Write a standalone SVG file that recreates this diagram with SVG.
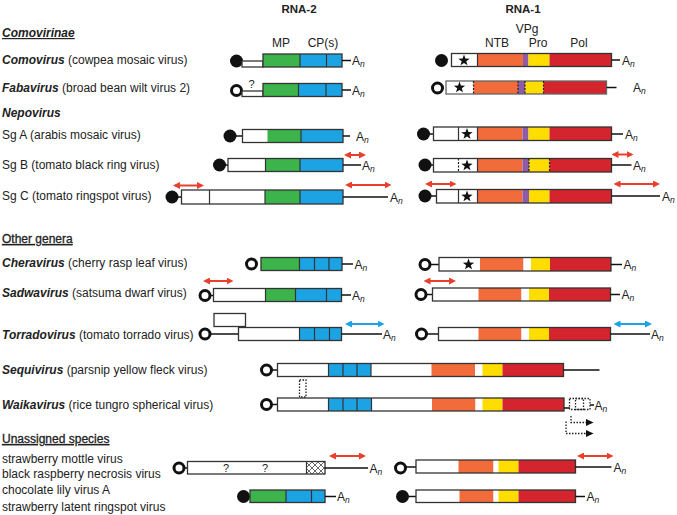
<svg xmlns="http://www.w3.org/2000/svg" xmlns:xlink="http://www.w3.org/1999/xlink" width="677" height="515" viewBox="0 0 677 515">
<style>
.t{font-family:"Liberation Sans",Arial,Helvetica,sans-serif;font-size:12px;fill:#222}
.bi{font-weight:bold;font-style:italic}
.hd{font-weight:bold;font-size:11.5px}
.ul{text-decoration:underline;stroke:#222;stroke-width:0.3}
.sub{font-size:8.5px;font-style:italic}
.q{font-size:11px}
.fc{fill:#111}
.oc{fill:#fff;stroke:#111;stroke-width:3}
.ln{stroke:#111;stroke-width:1.5;fill:none}
.bx{fill:none;stroke:#333;stroke-width:1.3}
.bxl{fill:none;stroke:#666;stroke-width:1.3}
.dv{stroke:#333;stroke-width:1.2}
.dd{stroke:#222;stroke-width:1.2;stroke-dasharray:2 1.5}
.dt{fill:none;stroke:#222;stroke-width:1.3;stroke-dasharray:1.5 1.5}
.w{fill:#fff}.g{fill:#3cb44b}.c{fill:#1ba3e3}.o{fill:#f26b3a}.p{fill:#8d5ba8}.y{fill:#ffdd00}.r{fill:#d4242d}
.ar{stroke:#e8402d;stroke-width:2;fill:none;marker-start:url(#mr);marker-end:url(#mr)}
.ab{stroke:#1ba3e3;stroke-width:2;fill:none;marker-start:url(#mb);marker-end:url(#mb)}
</style>
<defs>
<marker id="mr" viewBox="0 0 7 7" refX="5" refY="3.5" markerWidth="7" markerHeight="7" markerUnits="userSpaceOnUse" orient="auto-start-reverse"><path d="M0,0 L7,3.5 L0,7 z" fill="#e8402d"/></marker>
<marker id="mb" viewBox="0 0 7 7" refX="5" refY="3.5" markerWidth="7" markerHeight="7" markerUnits="userSpaceOnUse" orient="auto-start-reverse"><path d="M0,0 L7,3.5 L0,7 z" fill="#1ba3e3"/></marker>
<path id="star" d="M0,-6 L1.41,-1.94 L5.71,-1.85 L2.28,0.74 L3.53,4.85 L0,2.4 L-3.53,4.85 L-2.28,0.74 L-5.71,-1.85 L-1.41,-1.94 Z" fill="#111"/>
<pattern id="xh" width="6" height="6" patternUnits="userSpaceOnUse"><rect width="6" height="6" fill="#fff"/><path d="M0,0 L6,6 M6,0 L0,6" stroke="#444" stroke-width="0.8"/></pattern>
</defs>
<rect width="677" height="515" fill="#fff"/>

<g id="labels">
<text class="t hd" x="299" y="13" text-anchor="middle">RNA-2</text>
<text class="t hd" x="523" y="13" text-anchor="middle">RNA-1</text>
<text class="t" x="281" y="47" text-anchor="middle">MP</text>
<text class="t" x="323" y="47" text-anchor="middle">CP(s)</text>
<text class="t" x="527" y="33" text-anchor="middle">VPg</text>
<text class="t" x="497" y="47" text-anchor="middle">NTB</text>
<text class="t" x="538" y="47" text-anchor="middle">Pro</text>
<text class="t" x="579" y="47" text-anchor="middle">Pol</text>
<text class="t bi" x="2" y="37" text-decoration="underline">Comovirinae</text>
<text class="t" x="2" y="64"><tspan class="bi">Comovirus</tspan> (cowpea mosaic virus)</text>
<text class="t" x="2" y="92"><tspan class="bi">Fabavirus</tspan> (broad bean wilt virus 2)</text>
<text class="t bi" x="2" y="117">Nepovirus</text>
<text class="t" x="2" y="139">Sg A (arabis mosaic virus)</text>
<text class="t" x="2" y="169">Sg B (tomato black ring virus)</text>
<text class="t" x="2" y="200">Sg C (tomato ringspot virus)</text>
<text class="t ul" x="2" y="243" text-decoration="underline">Other genera</text>
<text class="t" x="2" y="267"><tspan class="bi">Cheravirus</tspan> (cherry rasp leaf virus)</text>
<text class="t" x="2" y="297"><tspan class="bi">Sadwavirus</tspan> (satsuma dwarf virus)</text>
<text class="t" x="2" y="339"><tspan class="bi">Torradovirus</tspan> (tomato torrado virus)</text>
<text class="t" x="2" y="374"><tspan class="bi">Sequivirus</tspan> (parsnip yellow fleck virus)</text>
<text class="t" x="2" y="409"><tspan class="bi">Waikavirus</tspan> (rice tungro spherical virus)</text>
<text class="t ul" x="2" y="443" text-decoration="underline">Unassigned species</text>
<text class="t" x="2" y="463">strawberry mottle virus</text>
<text class="t" x="2" y="478">black raspberry necrosis virus</text>
<text class="t" x="2" y="494">chocolate lily virus A</text>
<text class="t" x="2" y="511">strawberry latent ringspot virus</text>
</g>

<g id="como-rna2">
<circle class="fc" cx="236.5" cy="61" r="6.5"/>
<rect x="242" y="61" width="21" height="6" class="w"/><rect x="242" y="61" width="21" height="6" class="bx"/>
<rect x="263" y="54" width="37" height="13" class="g"/><rect x="300" y="54" width="42" height="13" class="c"/>
<rect x="263" y="54" width="79" height="13" class="bx"/>
<line x1="300" y1="54" x2="300" y2="67" class="dv"/><line x1="326.5" y1="54" x2="326.5" y2="67" class="dv"/>
<line x1="342" y1="60.5" x2="351" y2="60.5" class="ln"/>
<text class="t" x="352" y="65">A<tspan class="sub" dy="2">n</tspan></text>
</g>
<g id="como-rna1">
<circle class="fc" cx="441.5" cy="60.5" r="6.5"/>
<rect x="451.5" y="53.5" width="26" height="13" class="w"/><rect x="477.5" y="53.5" width="45.5" height="13" class="o"/><rect x="523" y="53.5" width="5.5" height="13" class="p"/><rect x="528.5" y="53.5" width="21" height="13" class="y"/><rect x="549.5" y="53.5" width="62" height="13" class="r"/>
<rect x="451.5" y="53.5" width="160" height="13" class="bx"/>
<line x1="477.5" y1="53.5" x2="477.5" y2="66.5" class="dv"/>
<use xlink:href="#star" x="464" y="60.5"/>
<line x1="611.5" y1="60" x2="620" y2="60" class="ln"/>
<text class="t" x="622" y="64.5">A<tspan class="sub" dy="2">n</tspan></text>
</g>

<g id="faba-rna2">
<circle class="oc" cx="236.5" cy="90.5" r="5"/>
<rect x="242" y="91" width="21" height="5.5" class="w"/><rect x="242" y="91" width="21" height="5.5" class="bx"/>
<text class="t q" x="251.5" y="88" text-anchor="middle">?</text>
<rect x="263" y="83.5" width="35.5" height="13" class="g"/><rect x="298.5" y="83.5" width="43.5" height="13" class="c"/>
<rect x="263" y="83.5" width="79" height="13" class="bx"/>
<line x1="298.5" y1="83.5" x2="298.5" y2="96.5" class="dv"/><line x1="326" y1="83.5" x2="326" y2="96.5" class="dv"/>
<line x1="342" y1="90" x2="351" y2="90" class="ln"/>
<text class="t" x="352" y="94.5">A<tspan class="sub" dy="2">n</tspan></text>
</g>
<g id="faba-rna1">
<circle class="oc" cx="437.5" cy="88" r="5"/>
<rect x="446" y="81" width="27.5" height="13" class="w"/><rect x="473.5" y="81" width="44.5" height="13" class="o"/><rect x="518" y="81" width="7" height="13" class="p"/><rect x="525" y="81" width="18.5" height="13" class="y"/><rect x="543.5" y="81" width="63" height="13" class="r"/>
<rect x="446" y="81" width="160.5" height="13" class="bxl"/>
<line x1="473.5" y1="81" x2="473.5" y2="94" class="dd"/><line x1="518" y1="81" x2="518" y2="94" class="dd"/><line x1="525" y1="81" x2="525" y2="94" class="dd"/><line x1="543.5" y1="81" x2="543.5" y2="94" class="dd"/>
<use xlink:href="#star" x="459.5" y="87.5"/>
<line x1="606.5" y1="87.5" x2="616.5" y2="87.5" class="ln"/>
<text class="t" x="633" y="92">A<tspan class="sub" dy="2">n</tspan></text>
</g>

<g id="sga-rna2">
<circle class="fc" cx="230" cy="136" r="6.5"/>
<line x1="235" y1="136" x2="242.5" y2="136" class="ln"/>
<rect x="242.5" y="129.5" width="25" height="13" class="w"/><rect x="267.5" y="129.5" width="33.5" height="13" class="g"/><rect x="301" y="129.5" width="42" height="13" class="c"/>
<rect x="242.5" y="129.5" width="100.5" height="13" class="bx"/>
<line x1="301" y1="129.5" x2="301" y2="142.5" class="dv"/>
<line x1="343" y1="136" x2="350" y2="136" class="ln"/>
<text class="t" x="356" y="140.5">A<tspan class="sub" dy="2">n</tspan></text>
</g>
<g id="sga-rna1">
<circle class="fc" cx="423.5" cy="134" r="6.5"/>
<line x1="428" y1="134" x2="433.5" y2="134" class="ln"/>
<rect x="433.5" y="127" width="44" height="13.5" class="w"/><rect x="477.5" y="127" width="45" height="13.5" class="o"/><rect x="522.5" y="127" width="6" height="13.5" class="p"/><rect x="528.5" y="127" width="21" height="13.5" class="y"/><rect x="549.5" y="127" width="62" height="13.5" class="r"/>
<rect x="433.5" y="127" width="178" height="13.5" class="bx"/>
<line x1="458.5" y1="127" x2="458.5" y2="140.5" class="dv"/><line x1="477.5" y1="127" x2="477.5" y2="140.5" class="dv"/>
<use xlink:href="#star" x="467" y="134"/>
<line x1="611.5" y1="134" x2="623" y2="134" class="ln"/>
<text class="t" x="625" y="138.5">A<tspan class="sub" dy="2">n</tspan></text>
</g>

<g id="sgb-rna2">
<circle class="fc" cx="219.5" cy="165" r="6.5"/>
<line x1="224" y1="165" x2="228" y2="165" class="ln"/>
<rect x="228" y="158.5" width="37.5" height="13" class="w"/><rect x="265.5" y="158.5" width="34.5" height="13" class="g"/><rect x="300" y="158.5" width="43" height="13" class="c"/>
<rect x="228" y="158.5" width="115" height="13" class="bx"/>
<line x1="265.5" y1="158.5" x2="265.5" y2="171.5" class="dv"/><line x1="300" y1="158.5" x2="300" y2="171.5" class="dv"/>
<line x1="343" y1="165" x2="361" y2="165" class="ln"/>
<text class="t" x="362" y="170">A<tspan class="sub" dy="2">n</tspan></text>
</g>
<g id="sgb-rna1">
<circle class="fc" cx="425" cy="165" r="6.5"/>
<line x1="429" y1="165" x2="433.5" y2="165" class="ln"/>
<rect x="433.5" y="158.5" width="44" height="13.5" class="w"/><rect x="477.5" y="158.5" width="45" height="13.5" class="o"/><rect x="522.5" y="158.5" width="6.5" height="13.5" class="p"/><rect x="529" y="158.5" width="20.5" height="13.5" class="y"/><rect x="549.5" y="158.5" width="62" height="13.5" class="r"/>
<rect x="433.5" y="158.5" width="178" height="13.5" class="bx"/>
<line x1="458.5" y1="158.5" x2="458.5" y2="172" class="dd"/><line x1="477.5" y1="158.5" x2="477.5" y2="172" class="dv"/>
<line x1="529" y1="158.5" x2="529" y2="172" class="dd"/><line x1="549.5" y1="158.5" x2="549.5" y2="172" class="dd"/>
<use xlink:href="#star" x="467" y="165.5"/>
<line x1="611.5" y1="165" x2="631.5" y2="165" class="ln"/>
<text class="t" x="633" y="170">A<tspan class="sub" dy="2">n</tspan></text>
</g>

<g id="sgc-rna2">
<circle class="fc" cx="172" cy="197" r="6.5"/>
<line x1="176" y1="197" x2="181.5" y2="197" class="ln"/>
<rect x="181.5" y="190" width="83.5" height="14" class="w"/><rect x="265" y="190" width="35" height="14" class="g"/><rect x="300" y="190" width="43" height="14" class="c"/>
<rect x="181.5" y="190" width="161.5" height="14" class="bx"/>
<line x1="209.5" y1="190" x2="209.5" y2="204" class="dv"/><line x1="265" y1="190" x2="265" y2="204" class="dv"/><line x1="300" y1="190" x2="300" y2="204" class="dv"/>
<line x1="343" y1="197" x2="388" y2="197" class="ln"/>
<text class="t" x="390" y="202">A<tspan class="sub" dy="2">n</tspan></text>
</g>
<g id="sgc-rna1">
<circle class="fc" cx="425" cy="196" r="6.5"/>
<line x1="429" y1="196" x2="436.5" y2="196" class="ln"/>
<rect x="436.5" y="189.5" width="41" height="13.5" class="w"/><rect x="477.5" y="189.5" width="45" height="13.5" class="o"/><rect x="522.5" y="189.5" width="6.5" height="13.5" class="p"/><rect x="529" y="189.5" width="20.5" height="13.5" class="y"/><rect x="549.5" y="189.5" width="62" height="13.5" class="r"/>
<rect x="436.5" y="189.5" width="175" height="13.5" class="bx"/>
<line x1="458.5" y1="189.5" x2="458.5" y2="203" class="dv"/><line x1="477.5" y1="189.5" x2="477.5" y2="203" class="dv"/>
<use xlink:href="#star" x="467" y="196.5"/>
<line x1="611.5" y1="196" x2="660" y2="196" class="ln"/>
<text class="t" x="662" y="201">A<tspan class="sub" dy="2">n</tspan></text>
</g>

<g id="chera-rna2">
<circle class="oc" cx="251.5" cy="264" r="5"/>
<rect x="261" y="257.5" width="38.5" height="13" class="g"/><rect x="299.5" y="257.5" width="42.5" height="13" class="c"/>
<rect x="261" y="257.5" width="81" height="13" class="bx"/>
<line x1="299.5" y1="257.5" x2="299.5" y2="270.5" class="dv"/><line x1="314.5" y1="257.5" x2="314.5" y2="270.5" class="dv"/><line x1="329" y1="257.5" x2="329" y2="270.5" class="dv"/>
<line x1="342" y1="264" x2="353" y2="264" class="ln"/>
<text class="t" x="354.5" y="268.5">A<tspan class="sub" dy="2">n</tspan></text>
</g>
<g id="chera-rna1">
<circle class="oc" cx="425" cy="264.5" r="5"/>
<line x1="430" y1="264.5" x2="439" y2="264.5" class="ln"/>
<rect x="439" y="257.5" width="41" height="13.5" class="w"/><rect x="480" y="257.5" width="43.5" height="13.5" class="o"/><rect x="523.5" y="257.5" width="7.5" height="13.5" class="w"/><rect x="531" y="257.5" width="19" height="13.5" class="y"/><rect x="550" y="257.5" width="61" height="13.5" class="r"/>
<rect x="439" y="257.5" width="172" height="13.5" class="bx"/>
<use xlink:href="#star" x="468.5" y="264.5"/>
<line x1="611" y1="264.5" x2="622" y2="264.5" class="ln"/>
<text class="t" x="623.5" y="269">A<tspan class="sub" dy="2">n</tspan></text>
</g>

<g id="sadwa-rna2">
<circle class="oc" cx="205" cy="295.5" r="5"/>
<line x1="210" y1="295.5" x2="213.5" y2="295.5" class="ln"/>
<rect x="213.5" y="288.5" width="52" height="13" class="w"/><rect x="265.5" y="288.5" width="30" height="13" class="g"/><rect x="295.5" y="288.5" width="46" height="13" class="c"/>
<rect x="213.5" y="288.5" width="128" height="13" class="bx"/>
<line x1="265.5" y1="288.5" x2="265.5" y2="301.5" class="dv"/><line x1="295.5" y1="288.5" x2="295.5" y2="301.5" class="dv"/><line x1="326.5" y1="288.5" x2="326.5" y2="301.5" class="dv"/>
<line x1="341.5" y1="295" x2="351" y2="295" class="ln"/>
<text class="t" x="352" y="299.5">A<tspan class="sub" dy="2">n</tspan></text>
</g>
<g id="sadwa-rna1">
<circle class="oc" cx="421" cy="294.5" r="5"/>
<line x1="426" y1="294.5" x2="432.5" y2="294.5" class="ln"/>
<rect x="432.5" y="288" width="46" height="13" class="w"/><rect x="478.5" y="288" width="43" height="13" class="o"/><rect x="521.5" y="288" width="7.5" height="13" class="w"/><rect x="529" y="288" width="20" height="13" class="y"/><rect x="549" y="288" width="61.5" height="13" class="r"/>
<rect x="432.5" y="288" width="178" height="13" class="bx"/>
<line x1="610.5" y1="294.5" x2="620" y2="294.5" class="ln"/>
<text class="t" x="621.5" y="299">A<tspan class="sub" dy="2">n</tspan></text>
</g>

<g id="torrado-rna2">
<circle class="oc" cx="205" cy="334" r="5"/>
<line x1="210" y1="334" x2="238.5" y2="334" class="ln"/>
<rect x="214" y="313.5" width="31.5" height="13" class="w"/><rect x="214" y="313.5" width="31.5" height="13" class="bx"/>
<rect x="238.5" y="327.5" width="61" height="13" class="w"/><rect x="299.5" y="327.5" width="42" height="13" class="c"/>
<rect x="238.5" y="327.5" width="103" height="13" class="bx"/>
<line x1="299.5" y1="327.5" x2="299.5" y2="340.5" class="dv"/><line x1="314.5" y1="327.5" x2="314.5" y2="340.5" class="dv"/><line x1="329.5" y1="327.5" x2="329.5" y2="340.5" class="dv"/>
<line x1="341.5" y1="334" x2="382" y2="334" class="ln"/>
<text class="t" x="383" y="338.5">A<tspan class="sub" dy="2">n</tspan></text>
</g>
<g id="torrado-rna1">
<circle class="oc" cx="421.5" cy="334" r="5"/>
<line x1="426.5" y1="334" x2="438.5" y2="334" class="ln"/>
<rect x="438.5" y="327.5" width="40" height="13" class="w"/><rect x="478.5" y="327.5" width="43" height="13" class="o"/><rect x="521.5" y="327.5" width="7.5" height="13" class="w"/><rect x="529" y="327.5" width="20" height="13" class="y"/><rect x="549" y="327.5" width="61.5" height="13" class="r"/>
<rect x="438.5" y="327.5" width="172" height="13" class="bx"/>
<line x1="610.5" y1="334" x2="650" y2="334" class="ln"/>
<text class="t" x="651" y="338.5">A<tspan class="sub" dy="2">n</tspan></text>
</g>

<g id="sequi">
<circle class="oc" cx="266.5" cy="370" r="5"/>
<line x1="271.5" y1="370" x2="277.5" y2="370" class="ln"/>
<rect x="277.5" y="363.5" width="51" height="13" class="w"/><rect x="328.5" y="363.5" width="42.5" height="13" class="c"/><rect x="371" y="363.5" width="60.5" height="13" class="w"/><rect x="431.5" y="363.5" width="43.5" height="13" class="o"/><rect x="475" y="363.5" width="7.5" height="13" class="w"/><rect x="482.5" y="363.5" width="20" height="13" class="y"/><rect x="502.5" y="363.5" width="61" height="13" class="r"/>
<rect x="277.5" y="363.5" width="286" height="13" class="bx"/>
<line x1="328.5" y1="363.5" x2="328.5" y2="376.5" class="dv"/><line x1="343" y1="363.5" x2="343" y2="376.5" class="dv"/><line x1="357" y1="363.5" x2="357" y2="376.5" class="dv"/><line x1="371" y1="363.5" x2="371" y2="376.5" class="dv"/>
<line x1="563.5" y1="370" x2="599.5" y2="370" class="ln"/>
</g>

<g id="waika">
<circle class="oc" cx="266.5" cy="404.5" r="5"/>
<line x1="271.5" y1="404.5" x2="277.5" y2="404.5" class="ln"/>
<rect x="277.5" y="398" width="51" height="13" class="w"/><rect x="328.5" y="398" width="43" height="13" class="c"/><rect x="371.5" y="398" width="60.5" height="13" class="w"/><rect x="432" y="398" width="43.5" height="13" class="o"/><rect x="475.5" y="398" width="7" height="13" class="w"/><rect x="482.5" y="398" width="20" height="13" class="y"/><rect x="502.5" y="398" width="61.5" height="13" class="r"/>
<rect x="277.5" y="398" width="286.5" height="13" class="bx"/>
<line x1="328.5" y1="398" x2="328.5" y2="411" class="dv"/><line x1="343" y1="398" x2="343" y2="411" class="dv"/><line x1="357" y1="398" x2="357" y2="411" class="dv"/><line x1="371.5" y1="398" x2="371.5" y2="411" class="dv"/>
<line x1="564" y1="408" x2="570" y2="408" class="ln"/>
<rect x="569.5" y="398.5" width="14" height="11" class="dt"/>
<rect x="575.5" y="398.5" width="14.5" height="11" class="dt"/>
<line x1="590" y1="405" x2="594" y2="405" class="ln" stroke-width="1"/>
<text class="t" x="594.5" y="410">A<tspan class="sub" dy="2">n</tspan></text>
<path d="M571,416 V422.5 H587" class="dt"/>
<polygon points="586,419 593.5,422.5 586,426" fill="#111"/>
<path d="M566,421.5 V433.5 H587" class="dt"/>
<polygon points="586,430 593.5,433.5 586,437" fill="#111"/>
</g>

<g id="un1-rna2">
<circle class="oc" cx="179" cy="468" r="5"/>
<line x1="184" y1="468" x2="187.5" y2="468" class="ln"/>
<rect x="187.5" y="461.5" width="119" height="12.5" class="w"/><rect x="306.5" y="461.5" width="18.5" height="12.5" fill="url(#xh)"/>
<rect x="187.5" y="461.5" width="137.5" height="12.5" class="bx"/>
<line x1="306.5" y1="461.5" x2="306.5" y2="474" class="dv"/>
<text class="t q" x="226" y="472" text-anchor="middle">?</text>
<text class="t q" x="265" y="472" text-anchor="middle">?</text>
<line x1="325" y1="468" x2="368" y2="468" class="ln"/>
<text class="t" x="369.5" y="472.5">A<tspan class="sub" dy="2">n</tspan></text>
</g>
<g id="un1-rna1">
<circle class="oc" cx="400.5" cy="468" r="5"/>
<line x1="405.5" y1="467" x2="416" y2="467" class="ln"/>
<rect x="416" y="460" width="42.5" height="13" class="w"/><rect x="458.5" y="460" width="35" height="13" class="o"/><rect x="493.5" y="460" width="5" height="13" class="w"/><rect x="498.5" y="460" width="20" height="13" class="y"/><rect x="518.5" y="460" width="57" height="13" class="r"/>
<rect x="416" y="460" width="159.5" height="13" class="bx"/>
<line x1="575.5" y1="467" x2="611.5" y2="467" class="ln"/>
<text class="t" x="613.5" y="471.5">A<tspan class="sub" dy="2">n</tspan></text>
</g>

<g id="un2-rna2">
<circle class="fc" cx="243.5" cy="496.5" r="6.5"/>
<line x1="248" y1="496.5" x2="250" y2="496.5" class="ln"/>
<rect x="250" y="490" width="36" height="12.5" class="g"/><rect x="286" y="490" width="39" height="12.5" class="c"/>
<rect x="250" y="490" width="75" height="12.5" class="bx"/>
<line x1="286" y1="490" x2="286" y2="502.5" class="dv"/><line x1="311.5" y1="490" x2="311.5" y2="502.5" class="dv"/>
<line x1="325" y1="496.5" x2="336" y2="496.5" class="ln"/>
<text class="t" x="337" y="501">A<tspan class="sub" dy="2">n</tspan></text>
</g>
<g id="un2-rna1">
<circle class="fc" cx="402.5" cy="496.5" r="6.5"/>
<line x1="407" y1="496.5" x2="416" y2="496.5" class="ln"/>
<rect x="416" y="490" width="43.5" height="12.5" class="w"/><rect x="459.5" y="490" width="34" height="12.5" class="o"/><rect x="493.5" y="490" width="5" height="12.5" class="w"/><rect x="498.5" y="490" width="20" height="12.5" class="y"/><rect x="518.5" y="490" width="57" height="12.5" class="r"/>
<rect x="416" y="490" width="159.5" height="12.5" class="bx"/>
<line x1="575.5" y1="496.5" x2="585" y2="496.5" class="ln"/>
<text class="t" x="586.5" y="501">A<tspan class="sub" dy="2">n</tspan></text>
</g>

<g id="connectors">
<line x1="346" y1="155" x2="364" y2="155" class="ar"/>
<line x1="613.5" y1="154.5" x2="631.5" y2="154.5" class="ar"/>
<line x1="175" y1="185.5" x2="202" y2="185.5" class="ar"/>
<line x1="347" y1="185" x2="389.5" y2="185" class="ar"/>
<line x1="427" y1="184" x2="454.5" y2="184" class="ar"/>
<line x1="615.5" y1="184" x2="658" y2="184" class="ar"/>
<line x1="205" y1="281" x2="231.5" y2="281" class="ar"/>
<line x1="425.5" y1="281" x2="454" y2="281" class="ar"/>
<line x1="347" y1="324" x2="382.5" y2="324" class="ab"/>
<line x1="615.5" y1="324" x2="650" y2="324" class="ab"/>
<line x1="331" y1="456" x2="364" y2="456" class="ar"/>
<line x1="579" y1="456" x2="611.5" y2="456" class="ar"/>
<rect x="299.5" y="380" width="6.5" height="17" class="dt"/>
</g>
</svg>
